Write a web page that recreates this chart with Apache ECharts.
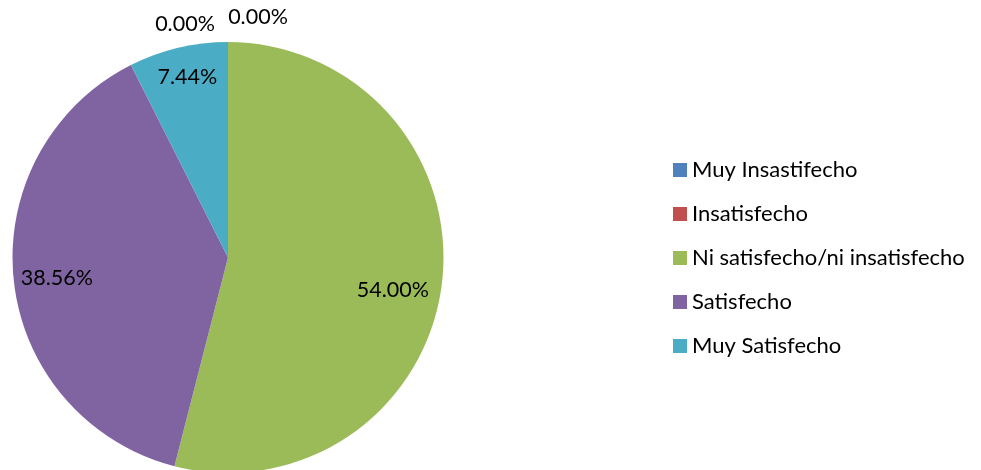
<!DOCTYPE html>
<html>
<head>
<meta charset="utf-8">
<script src="https://cdn.jsdelivr.net/npm/echarts@6/dist/echarts.min.js"></script>
<style>
html,body{margin:0;padding:0;background:#fff;}
#chart{width:981px;height:470px;}
</style>
</head>
<body>
<div id="chart"></div>
<script>
var categories = ['Muy Insastifecho', 'Insatisfecho', 'Ni satisfecho/ni insatisfecho', 'Satisfecho', 'Muy Satisfecho'];
var values = [0.00, 0.00, 54.00, 38.56, 7.44];
var colors = ['#4F81BD', '#C0504D', '#9BBB59', '#8064A2', '#4BACC6'];
var labelOffsets = [[-43, -123], [30, -130], [55, 19], [-61, 9], [-15, -73]];

var chart = echarts.init(document.getElementById('chart'), null, {renderer: 'canvas'});
var data = categories.map(function (c, i) {
  return {
    name: c,
    value: values[i],
    itemStyle: {color: colors[i]},
    label: {offset: labelOffsets[i]}
  };
});
chart.setOption({
  animation: false,
  backgroundColor: '#ffffff',
  legend: {
    orient: 'vertical',
    left: 673,
    top: 158.5,
    padding: 0,
    itemWidth: 14,
    itemHeight: 14,
    itemGap: 21,
    icon: 'rect',
    textStyle: {fontFamily: 'Lato', fontSize: 22, color: '#000', lineHeight: 23},
    data: categories
  },
  series: [{
    type: 'pie',
    center: [228, 257.5],
    radius: 215.5,
    startAngle: 90,
    clockwise: true,
    avoidLabelOverlap: false,
    stillShowZeroSum: true,
    minShowLabelAngle: 0,
    itemStyle: {borderWidth: 0},
    label: {
      show: true,
      position: 'inside',
      fontFamily: 'Lato',
      fontSize: 21.5,
      color: '#000',
      formatter: function (p) { return p.value.toFixed(2) + '%'; }
    },
    labelLine: {show: false},
    emphasis: {disabled: true},
    data: data
  }]
});
</script>
</body>
</html>
